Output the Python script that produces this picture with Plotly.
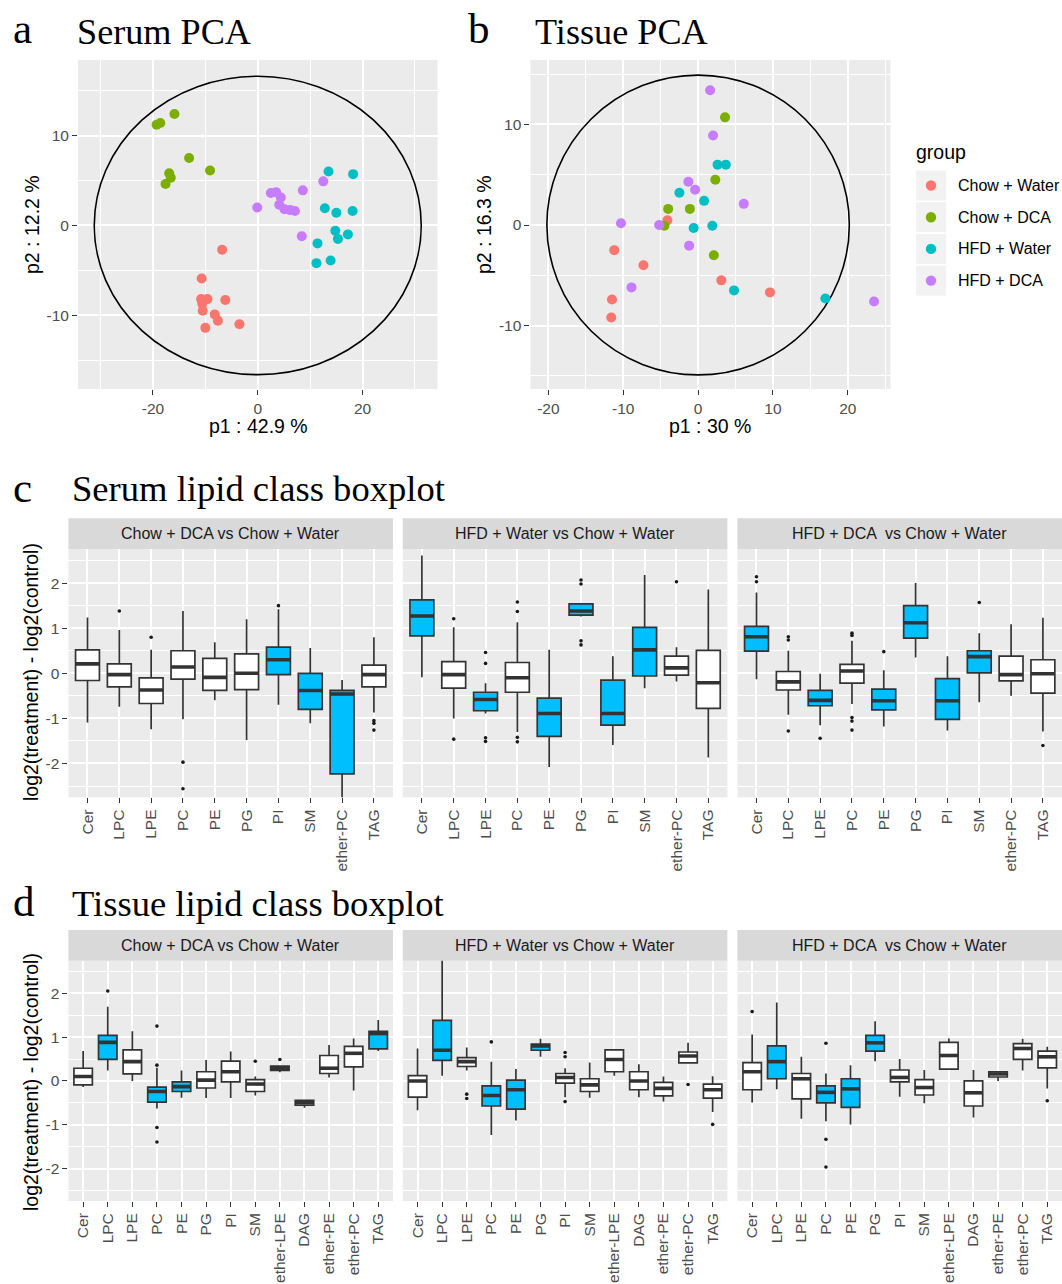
import plotly.graph_objects as go

W, H = 1062, 1284

# ---------------- PCA data ----------------
GROUPS = ["Chow + Water", "Chow + DCA", "HFD + Water", "HFD + DCA"]
GROUP_COLORS = ["#F8766D", "#7CAE00", "#00BFC4", "#C77CFF"]

serum_chow_water_x = [-6.8, -10.7, -10.8, -9.6, -6.2, -10.6, -10.5, -8.2, -7.6, -10.0, -3.5]
serum_chow_water_y = [-2.7, -5.9, -8.2, -8.2, -8.3, -8.7, -9.5, -9.9, -10.6, -11.4, -11.0]
serum_chow_dca_x = [-19.3, -18.6, -15.9, -13.1, -9.1, -16.9, -16.6, -17.6]
serum_chow_dca_y = [11.2, 11.4, 12.4, 7.5, 6.1, 5.8, 5.3, 4.6]
serum_hfd_water_x = [13.5, 18.2, 12.8, 15.0, 18.1, 14.8, 15.3, 17.2, 11.4, 11.2, 13.9]
serum_hfd_water_y = [6.0, 5.7, 1.9, 1.4, 1.6, -0.6, -1.5, -1.0, -2.0, -4.2, -3.9]
serum_hfd_dca_x = [-0.1, 2.5, 3.5, 4.4, 4.1, 5.1, 6.2, 7.1, 8.6, 12.5, 8.4]
serum_hfd_dca_y = [2.0, 3.6, 3.7, 3.1, 2.3, 1.8, 1.7, 1.6, 3.9, 4.9, -1.2]
serum_ellipse = [31.2, 16.6]   # semi-axes (p1, p2)

tissue_chow_water_x = [-4.1, -11.2, -7.3, -11.5, -11.6, 3.1, 9.6]
tissue_chow_water_y = [0.46, -2.5, -4.0, -7.4, -9.2, -5.5, -6.7]
tissue_chow_dca_x = [3.6, 2.3, -4.0, -1.1, -4.5, 2.1]
tissue_chow_dca_y = [10.7, 4.5, 1.6, 1.6, -0.07, -3.0]
tissue_hfd_water_x = [2.6, 3.7, -2.5, 0.8, -0.6, 1.9, 4.8, 17.0]
tissue_hfd_water_y = [6.0, 6.0, 3.2, 2.4, -0.3, -0.07, -6.5, -7.3]
tissue_hfd_dca_x = [1.6, 2.0, -1.3, -0.4, 6.1, -10.3, -5.2, -1.2, -8.9, 23.5]
tissue_hfd_dca_y = [13.4, 8.9, 4.3, 3.5, 2.1, 0.17, 0.0, -2.05, -6.2, -7.6]
tissue_ellipse = [20.2, 14.9]

# ---------------- Boxplot data ----------------
FACETS = ["Chow + DCA vs Chow + Water", "HFD + Water vs Chow + Water", "HFD + DCA  vs Chow + Water"]
serum_classes = ["Cer", "LPC", "LPE", "PC", "PE", "PG", "PI", "SM", "ether-PC", "TAG"]
tissue_classes = ["Cer", "LPC", "LPE", "PC", "PE", "PG", "PI", "SM", "ether-LPE", "DAG", "ether-PE", "ether-PC", "TAG"]

# serum: Chow + DCA vs Chow + Water
s1_low = [-1.09, -0.74, -1.24, -1.02, -0.60, -1.48, -0.70, -1.11, -2.80, -0.87]
s1_q1 = [-0.16, -0.30, -0.67, -0.13, -0.38, -0.36, -0.03, -0.80, -2.23, -0.30]
s1_med = [0.21, -0.03, -0.37, 0.14, -0.09, 0.00, 0.30, -0.38, -0.46, -0.03]
s1_q3 = [0.52, 0.21, -0.10, 0.50, 0.33, 0.43, 0.58, 0.00, -0.38, 0.18]
s1_high = [1.24, 0.96, 0.52, 1.38, 0.69, 1.20, 1.42, 0.56, -0.15, 0.80]
s1_sig = [0, 0, 0, 0, 0, 0, 1, 1, 1, 0]
s1_out = [[], [1.38], [0.80], [-1.97, -2.56], [], [], [1.50], [], [], [-1.05, -1.11, -1.26]]

# serum: HFD + Water vs Chow + Water
s2_low = [-0.09, -1.00, -0.89, -1.30, -2.08, 1.26, -1.59, -0.33, -0.18, -1.87]
s2_q1 = [0.83, -0.33, -0.83, -0.42, -1.40, 1.29, -1.15, -0.06, -0.04, -0.78]
s2_med = [1.27, -0.03, -0.58, -0.10, -0.89, 1.38, -0.89, 0.52, 0.12, -0.21]
s2_q3 = [1.63, 0.26, -0.42, 0.24, -0.55, 1.54, -0.15, 1.02, 0.38, 0.51]
s2_high = [2.61, 1.02, -0.22, 1.13, 0.52, 1.54, 0.38, 2.18, 0.58, 1.86]
s2_sig = [1, 0, 1, 0, 1, 1, 1, 1, 0, 0]
s2_out = [[], [1.21, -1.46], [0.46, 0.22, -1.43, -1.51], [1.58, 1.37, -1.42, -1.52], [],
          [2.07, 1.98, 0.72, 0.63], [], [], [2.03], []]

# serum: HFD + DCA vs Chow + Water
s3_low = [-0.13, -0.92, -1.15, -0.68, -1.18, 0.35, -1.27, -0.64, -0.50, -1.29]
s3_q1 = [0.49, -0.37, -0.72, -0.22, -0.81, 0.78, -1.02, 0.01, -0.17, -0.44]
s3_med = [0.81, -0.19, -0.60, 0.05, -0.61, 1.12, -0.61, 0.37, -0.03, -0.01]
s3_q3 = [1.04, 0.04, -0.38, 0.20, -0.35, 1.50, -0.12, 0.50, 0.38, 0.30]
s3_high = [1.79, 0.50, -0.01, 0.72, 0.07, 2.00, 0.38, 0.89, 1.09, 1.23]
s3_sig = [1, 0, 1, 0, 1, 1, 1, 1, 0, 0]
s3_out = [[2.14, 2.03], [0.81, 0.74, -1.28], [-1.44], [0.89, 0.84, -0.98, -1.06, -1.26], [0.48],
          [], [], [1.57], [], [-1.60]]

# tissue: Chow + DCA vs Chow + Water
t1_low = [-0.14, 0.24, 0.00, -0.63, -0.38, -0.39, -0.39, -0.33, 0.20, -0.61, 0.08, -0.22, 0.68]
t1_q1 = [-0.09, 0.49, 0.16, -0.48, -0.24, -0.16, -0.02, -0.24, 0.24, -0.55, 0.17, 0.32, 0.73]
t1_med = [0.10, 0.88, 0.44, -0.24, -0.13, 0.02, 0.21, -0.07, 0.29, -0.49, 0.29, 0.63, 1.08]
t1_q3 = [0.29, 1.04, 0.71, -0.14, -0.02, 0.21, 0.45, 0.03, 0.34, -0.44, 0.58, 0.79, 1.13]
t1_high = [0.68, 1.69, 1.13, 0.30, 0.24, 0.48, 0.67, 0.10, 0.36, -0.42, 0.82, 0.97, 1.39]
t1_sig = [0, 1, 0, 1, 1, 0, 0, 0, 0, 0, 0, 0, 1]
t1_out = [[], [2.05], [], [1.25, 0.36, -1.06, -1.39], [], [], [], [0.45], [0.49], [], [], [], []]

# tissue: HFD + Water vs Chow + Water
t2_low = [-0.67, 0.12, 0.24, -1.23, -0.90, 0.55, -0.37, -0.38, 0.12, -0.37, -0.47, 0.41, -0.71]
t2_q1 = [-0.37, 0.47, 0.33, -0.57, -0.64, 0.70, -0.05, -0.24, 0.21, -0.20, -0.34, 0.41, -0.39]
t2_med = [0.00, 0.70, 0.44, -0.33, -0.20, 0.80, 0.08, -0.09, 0.49, 0.00, -0.17, 0.57, -0.20]
t2_q3 = [0.12, 1.38, 0.53, -0.11, 0.02, 0.84, 0.17, 0.05, 0.71, 0.21, -0.03, 0.66, -0.07]
t2_high = [0.74, 2.80, 0.76, 0.44, 0.27, 0.96, 0.29, 0.42, 0.73, 0.38, 0.10, 0.87, 0.11]
t2_sig = [0, 1, 0, 1, 1, 1, 0, 0, 0, 0, 0, 0, 0]
t2_out = [[], [], [-0.30, -0.40], [0.89], [], [], [0.65, 0.55, -0.47], [], [], [], [], [-0.08], [-0.99]]

# tissue: HFD + DCA vs Chow + Water
t3_low = [-0.49, -0.19, -0.86, -0.92, -0.99, 0.45, -0.36, -0.51, 0.27, -0.83, 0.00, 0.24, -0.17]
t3_q1 = [-0.20, 0.05, -0.41, -0.50, -0.60, 0.68, -0.02, -0.32, 0.27, -0.57, 0.09, 0.49, 0.30]
t3_med = [0.21, 0.44, 0.05, -0.26, -0.18, 0.87, 0.08, -0.15, 0.58, -0.27, 0.16, 0.74, 0.55]
t3_q3 = [0.42, 0.80, 0.17, -0.11, 0.05, 1.04, 0.25, 0.03, 0.88, 0.00, 0.21, 0.85, 0.68]
t3_high = [1.06, 1.79, 0.55, 0.17, 0.36, 1.36, 0.50, 0.25, 0.97, 0.25, 0.21, 0.96, 0.78]
t3_sig = [0, 1, 0, 1, 1, 1, 0, 0, 0, 0, 0, 0, 0]
t3_out = [[1.58], [], [], [0.86, -1.33, -1.96], [], [], [], [], [], [], [], [], [-0.45]]

box_ticks = [-2, -1, 0, 1, 2]
box_minor = [-2.5, -1.5, -0.5, 0.5, 1.5, 2.5]

# ---------------- styling helpers ----------------
SANS = "Liberation Sans, Arial, sans-serif"
SERIF = "Liberation Serif, Times New Roman, serif"
TICK_FONT = dict(family=SANS, size=15.5, color="#4D4D4D")
BOX_LINE = "#333333"
BLUE = "#00BFFF"


def px(xp):
    return xp / W


def py(yp):
    return 1 - yp / H


def axis(**kw):
    d = dict(showgrid=True, gridcolor="white", gridwidth=2, zeroline=False, showline=False,
             ticks="outside", ticklen=5, tickwidth=1.2, tickcolor="#333333",
             tickfont=TICK_FONT, ticklabelstandoff=0, fixedrange=True)
    d.update(kw)
    return d


def minor(vals):
    return dict(tickvals=vals, showgrid=True, gridcolor="white", gridwidth=1, ticks="")


fig = go.Figure()
layout = {}
shapes = []
annotations = []

# ---------------- PCA panels ----------------
pca_sets = [
    ("x", "y", [(serum_chow_water_x, serum_chow_water_y), (serum_chow_dca_x, serum_chow_dca_y),
                (serum_hfd_water_x, serum_hfd_water_y), (serum_hfd_dca_x, serum_hfd_dca_y)], serum_ellipse),
    ("x2", "y2", [(tissue_chow_water_x, tissue_chow_water_y), (tissue_chow_dca_x, tissue_chow_dca_y),
                  (tissue_hfd_water_x, tissue_hfd_water_y), (tissue_hfd_dca_x, tissue_hfd_dca_y)], tissue_ellipse),
]
for xa, ya, groups, ell in pca_sets:
    shapes.append(dict(type="circle", xref=xa, yref=ya, x0=-ell[0], x1=ell[0], y0=-ell[1], y1=ell[1],
                       line=dict(color="black", width=1.6), layer="between"))
    for (gx, gy), name, col in zip(groups, GROUPS, GROUP_COLORS):
        fig.add_trace(go.Scatter(x=gx, y=gy, mode="markers", name=name, xaxis=xa, yaxis=ya,
                                 marker=dict(size=10, color=col), showlegend=False, hoverinfo="skip"))

pca_y_dom = [py(389), py(60)]
layout["xaxis"] = axis(domain=[px(78), px(437.5)], range=[-34.3, 34.3], anchor="y",
                       tickvals=[-20, 0, 20], ticktext=["-20", "0", "20"], minor=minor([-30, -10, 10, 30]))
layout["yaxis"] = axis(domain=pca_y_dom, range=[-18.2, 18.4], anchor="x",
                       tickvals=[-10, 0, 10], ticktext=["-10", "0", "10"], minor=minor([-15, -5, 5, 15]))
layout["xaxis2"] = axis(domain=[px(530.4), px(890.5)], range=[-22.4, 25.7], anchor="y2",
                        tickvals=[-20, -10, 0, 10, 20], ticktext=["-20", "-10", "0", "10", "20"],
                        minor=minor([-15, -5, 5, 15, 25]))
layout["yaxis2"] = axis(domain=pca_y_dom, range=[-16.3, 16.4], anchor="x2",
                        tickvals=[-10, 0, 10], ticktext=["-10", "0", "10"], minor=minor([-15, -5, 5, 15]))

# ---------------- Boxplot panels ----------------
facet_x = [(68.4, 393.0), (402.8, 727.4), (737.4, 1062.0)]
serum_sets = [(s1_low, s1_q1, s1_med, s1_q3, s1_high, s1_sig, s1_out),
              (s2_low, s2_q1, s2_med, s2_q3, s2_high, s2_sig, s2_out),
              (s3_low, s3_q1, s3_med, s3_q3, s3_high, s3_sig, s3_out)]
tissue_sets = [(t1_low, t1_q1, t1_med, t1_q3, t1_high, t1_sig, t1_out),
               (t2_low, t2_q1, t2_med, t2_q3, t2_high, t2_sig, t2_out),
               (t3_low, t3_q1, t3_med, t3_q3, t3_high, t3_sig, t3_out)]

BOX_W = 0.75


def add_facet(ax_i, cats, data):
    low, q1, med, q3, high, sig, outl = data
    xa, ya = f"x{ax_i}", f"y{ax_i}"
    pos = list(range(1, len(cats) + 1))
    for flag, col in [(1, BLUE), (0, "white")]:
        idx = [i for i in range(len(cats)) if sig[i] == flag]
        if not idx:
            continue
        fig.add_trace(go.Box(
            x=[pos[i] for i in idx], q1=[q1[i] for i in idx], median=[med[i] for i in idx],
            q3=[q3[i] for i in idx], lowerfence=[low[i] for i in idx], upperfence=[high[i] for i in idx],
            width=BOX_W, fillcolor=col, line=dict(color=BOX_LINE, width=1.7), whiskerwidth=0,
            boxpoints=False, orientation="v", xaxis=xa, yaxis=ya, showlegend=False, hoverinfo="skip"))
    mx, my = [], []
    for i, p in enumerate(pos):
        mx += [p - BOX_W / 2, p + BOX_W / 2, None]
        my += [med[i], med[i], None]
    fig.add_trace(go.Scatter(x=mx, y=my, mode="lines", line=dict(color=BOX_LINE, width=3.6),
                             xaxis=xa, yaxis=ya, showlegend=False, hoverinfo="skip"))
    ox, oy = [], []
    for i, p in enumerate(pos):
        for v in outl[i]:
            ox.append(p)
            oy.append(v)
    fig.add_trace(go.Scatter(x=ox, y=oy, mode="markers", marker=dict(size=3.6, color="#1A1A1A"),
                             xaxis=xa, yaxis=ya, showlegend=False, hoverinfo="skip"))


box_panels = [
    (3, serum_classes, serum_sets, (549.3, 797.3), (518.3, 549.3), [-2.75, 2.75]),
    (6, tissue_classes, tissue_sets, (960.7, 1201.0), (930.0, 960.7), [-2.735, 2.74]),
]
for start, cats, sets, (ytop, ybot), (stop, sbot), yr in box_panels:
    for k in range(3):
        ai = start + k
        x0p, x1p = facet_x[k]
        add_facet(ai, cats, sets[k])
        layout[f"xaxis{ai}"] = axis(domain=[px(x0p), px(x1p)], range=[0.4, len(cats) + 0.6], anchor=f"y{ai}",
                                    tickvals=list(range(1, len(cats) + 1)), ticktext=cats, tickangle=-90)
        layout[f"yaxis{ai}"] = axis(domain=[py(ybot), py(ytop)], range=yr, anchor=f"x{ai}",
                                    tickvals=box_ticks, ticktext=[str(v) for v in box_ticks],
                                    minor=minor(box_minor), showticklabels=(k == 0),
                                    ticks="outside" if k == 0 else "")
        shapes.append(dict(type="rect", xref="paper", yref="paper", x0=px(x0p), x1=px(x1p),
                           y0=py(sbot), y1=py(stop), fillcolor="#D9D9D9", line=dict(width=0), layer="below"))
        annotations.append(dict(text=FACETS[k], xref="paper", yref="paper", x=px((x0p + x1p) / 2),
                                y=py((stop + sbot) / 2), xanchor="center", yanchor="middle", showarrow=False,
                                font=dict(family=SANS, size=16, color="#1A1A1A")))

# ---------------- Titles & axis titles ----------------
def ann(text, x, y, size, family=SANS, color="black", angle=0, xanchor="center"):
    annotations.append(dict(text=text, xref="paper", yref="paper", x=px(x), y=py(y), xanchor=xanchor,
                            yanchor="middle", showarrow=False, textangle=angle,
                            font=dict(family=family, size=size, color=color)))


ann("a", 11, 29, 43, SERIF, xanchor="left")
ann("Serum PCA", 75, 32, 36.2, SERIF, xanchor="left")
ann("b", 466, 29, 43, SERIF, xanchor="left")
ann("Tissue PCA", 533, 32, 36.2, SERIF, xanchor="left")
ann("c", 11, 487, 43, SERIF, xanchor="left")
ann("Serum lipid class boxplot", 70, 488, 36.6, SERIF, xanchor="left")
ann("d", 11, 901, 43, SERIF, xanchor="left")
ann("Tissue lipid class boxplot", 70, 903, 36.6, SERIF, xanchor="left")

ann("p1 : 42.9 %", 258, 426, 19.5)
ann("p2 : 12.2 %", 32, 225, 19.5, angle=-90)
ann("p1 : 30 %", 710, 426, 19.5)
ann("p2 : 16.3 %", 484, 225, 19.5, angle=-90)
ann("log2(treatment) - log2(control)", 31, 672, 19.5, angle=-90)
ann("log2(treatment) - log2(control)", 31, 1082, 19.5, angle=-90)

# ---------------- Legend (manual, ggplot style) ----------------
ann("group", 914, 152, 19.5, xanchor="left")
for i, (name, col) in enumerate(zip(GROUPS, GROUP_COLORS)):
    cy = 185.5 + i * 31.7
    shapes.append(dict(type="rect", xref="paper", yref="paper", x0=px(916), x1=px(946),
                       y0=py(cy + 15), y1=py(cy - 15), fillcolor="#F2F2F2", line=dict(width=0)))
    shapes.append(dict(type="circle", xref="paper", yref="paper", x0=px(931 - 5.2), x1=px(931 + 5.2),
                       y0=py(cy + 5.2), y1=py(cy - 5.2), fillcolor=col, line=dict(width=0)))
    ann(name, 956, cy, 16, xanchor="left")

fig.update_layout(
    width=W, height=H, margin=dict(l=0, r=0, t=0, b=0),
    paper_bgcolor="white", plot_bgcolor="#EBEBEB", showlegend=False,
    boxmode="overlay", shapes=shapes, annotations=annotations, **layout)

fig.write_html("out.html", config={"displayModeBar": False},
               post_script="document.body.style.margin='0';document.body.style.overflow='hidden';")
